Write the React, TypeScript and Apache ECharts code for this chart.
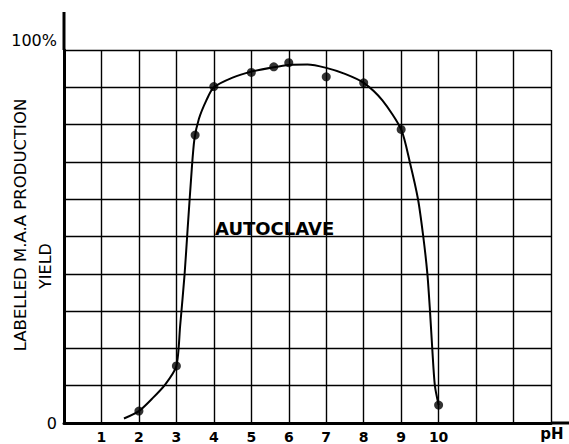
import React, { useEffect, useRef } from "react";
import * as echarts from "echarts";

// Measured dots (pH, % yield)
const pointPh = [2, 3, 3.5, 4, 5, 5.6, 6, 7, 8, 9, 10];
const pointYield = [3.2, 15.3, 77.2, 90.2, 94.0, 95.5, 96.6, 92.8, 91.2, 78.7, 4.8];

// Hand-drawn fitted curve
const curvePh = [1.6, 2, 2.35, 2.7, 3, 3.1, 3.22, 3.3, 3.41, 3.48, 3.6, 3.8, 4, 4.5, 5, 5.6, 6, 6.5, 7, 7.5, 8, 8.5, 9, 9.23, 9.45, 9.59, 9.7, 9.77, 9.83, 9.9, 10];
const curveYield = [1.2, 3.2, 6.5, 10.3, 15.3, 26, 40, 52, 68, 76, 81.5, 86.5, 90, 92.6, 94.2, 95.4, 96, 96.1, 95.2, 93.6, 91.2, 86.5, 78.7, 70, 60, 50, 40, 30, 20, 10, 4.8];

const xLabelValues = [1, 2, 3, 4, 5, 6, 7, 8, 9, 10];
const yLabelValues = [0, 100];
const yLabelTexts = ["0", "100%"];

const yTitle = "LABELLED M.A.A PRODUCTION";
const yTitle2 = "YIELD";
const xName = "pH";
const annotation = "AUTOCLAVE";

export default function App() {
  const ref = useRef<HTMLDivElement>(null);
  useEffect(() => {
    if (!ref.current) return;
    const chart = echarts.init(ref.current, null, { renderer: "svg" });
    const gridLine = { color: "#000", width: 1.4 };
    chart.setOption({
      animation: false,
      backgroundColor: "#fff",
      grid: { left: 64, right: 18, top: 50, bottom: 21, containLabel: false },
      xAxis: {
        type: "value",
        min: 0,
        max: 13,
        interval: 1,
        axisLine: { show: true, lineStyle: { color: "#000", width: 3 } },
        axisTick: { show: false },
        splitLine: { show: true, lineStyle: gridLine },
        axisLabel: {
          color: "#000",
          fontFamily: "DejaVu Sans",
          fontWeight: "bold",
          fontSize: 14,
          margin: 7,
          formatter: (v: number) => (xLabelValues.includes(v) ? String(v) : ""),
        },
      },
      yAxis: {
        type: "value",
        min: 0,
        max: 100,
        interval: 10,
        axisLine: { show: true, lineStyle: { color: "#000", width: 3 } },
        axisTick: { show: false },
        splitLine: { show: true, lineStyle: gridLine },
        axisLabel: {
          color: "#000",
          fontFamily: "DejaVu Sans",
          fontSize: 16,
          margin: 7,
          formatter: (v: number) => {
            const i = yLabelValues.indexOf(v);
            if (i < 0) return "";
            return v === 100 ? "{t|" + yLabelTexts[i] + "}" : yLabelTexts[i];
          },
          rich: {
            t: { fontFamily: "DejaVu Sans", fontSize: 16, color: "#000", padding: [0, 0, 20, 0] },
          },
        },
      },
      graphic: [
        { type: "line", shape: { x1: 64, y1: 12, x2: 64, y2: 50 }, style: { stroke: "#000", lineWidth: 3 } },
        { type: "line", shape: { x1: 551, y1: 423, x2: 569, y2: 423 }, style: { stroke: "#000", lineWidth: 3 } },
        {
          type: "text",
          x: 20,
          y: 225,
          rotation: Math.PI / 2,
          style: { text: yTitle, fill: "#000", fontFamily: "DejaVu Sans", fontSize: 16.5, align: "center", verticalAlign: "middle" },
        },
        {
          type: "text",
          x: 45,
          y: 266,
          rotation: Math.PI / 2,
          style: { text: yTitle2, fill: "#000", fontFamily: "DejaVu Sans", fontSize: 16, align: "center", verticalAlign: "middle" },
        },
        {
          type: "text",
          x: 552,
          y: 434,
          style: { text: xName, fill: "#000", fontFamily: "DejaVu Sans", fontWeight: "bold", fontSize: 15, align: "center", verticalAlign: "middle" },
        },
        {
          type: "text",
          x: 215,
          y: 237,
          style: { text: annotation, fill: "#000", fontFamily: "DejaVu Sans", fontWeight: "bold", fontSize: 18, align: "left", verticalAlign: "bottom" },
        },
      ],
      series: [
        {
          type: "line",
          data: curvePh.map((x, i) => [x, curveYield[i]]),
          smooth: 0.25,
          showSymbol: false,
          lineStyle: { color: "#000", width: 2 },
          z: 3,
        },
        {
          type: "scatter",
          data: pointPh.map((x, i) => [x, pointYield[i]]),
          symbol: "circle",
          symbolSize: 9,
          itemStyle: { color: "#000" },
          z: 4,
        },
      ],
    });
    return () => chart.dispose();
  }, []);
  return <div ref={ref} style={{ position: "fixed", left: 0, top: 0, width: 569, height: 444, background: "#fff" }} />;
}
